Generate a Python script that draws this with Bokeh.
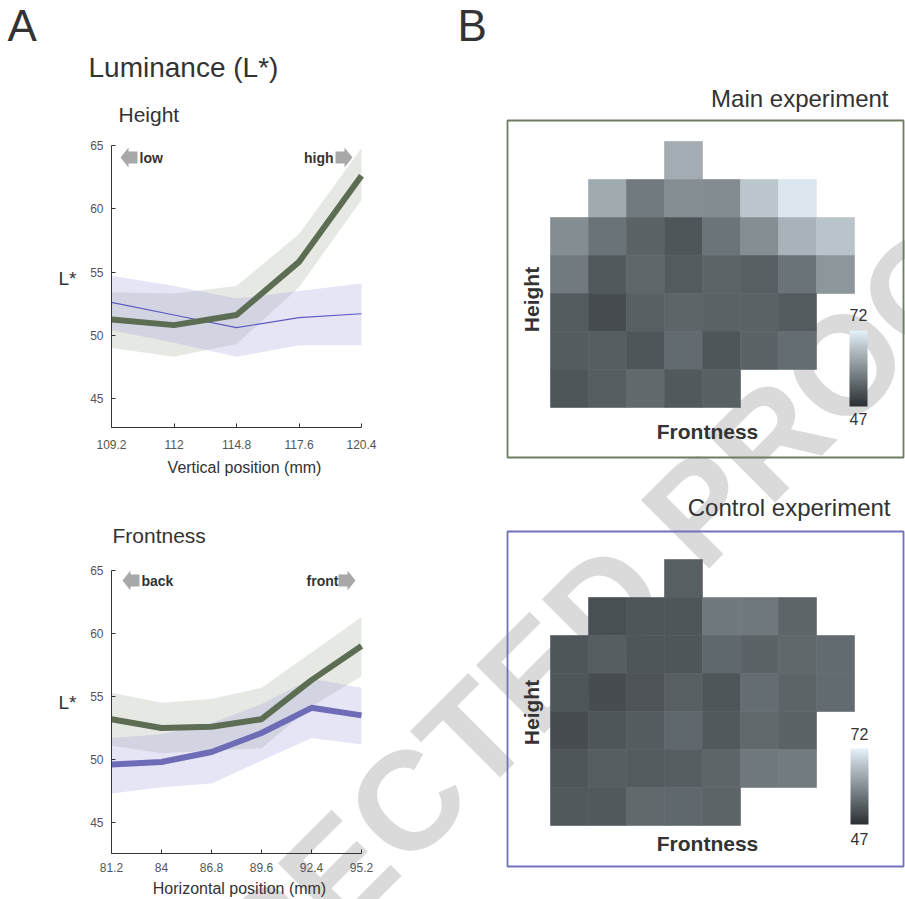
import numpy as np
from bokeh.plotting import figure
from bokeh.models import (ColumnDataSource, Label, FixedTicker, PolyAnnotation, BoxAnnotation,
                          LinearColorMapper, ColorBar, Range1d, LinearAxis)
from bokeh.transform import linear_cmap
from bokeh.embed import file_html
from bokeh.resources import INLINE

# ---------------- data ----------------
y_ticks = [45, 50, 55, 60, 65]

height_x = [109.2, 112, 114.8, 117.6, 120.4]
height_main = [51.25, 50.8, 51.6, 55.8, 62.6]
height_main_hi = [53.4, 53.3, 53.9, 58.0, 64.8]
height_main_lo = [49.0, 48.3, 49.3, 53.8, 60.7]
height_ctrl = [52.6, 51.6, 50.6, 51.4, 51.7]
height_ctrl_hi = [54.7, 53.9, 52.9, 53.5, 54.1]
height_ctrl_lo = [50.4, 49.4, 48.3, 49.2, 49.2]

front_x = [81.2, 84, 86.8, 89.6, 92.4, 95.2]
front_main = [53.2, 52.5, 52.6, 53.2, 56.3, 59.0]
front_main_hi = [55.3, 54.5, 54.8, 55.7, 58.5, 61.3]
front_main_lo = [51.1, 50.5, 50.7, 50.9, 54.2, 56.6]
front_ctrl = [49.6, 49.8, 50.6, 52.1, 54.1, 53.5]
front_ctrl_hi = [51.7, 52.0, 52.9, 54.4, 56.4, 55.7]
front_ctrl_lo = [47.3, 47.8, 48.1, 49.9, 51.7, 51.2]

# heat maps: rows listed from top (high) to bottom, columns back -> front
main_rows = [
    [None, None, None, 63.4, None, None, None, None],
    [None, 63.2, 56.8, 59.4, 59.2, 66.9, 70.6, None],
    [59.3, 55.9, 53.9, 52.2, 56.0, 59.4, 64.1, 66.5],
    [56.8, 52.5, 54.3, 52.8, 54.1, 53.3, 55.9, 60.4],
    [52.8, 50.9, 53.5, 54.2, 53.8, 53.8, 52.8, None],
    [52.9, 53.2, 52.2, 54.9, 52.1, 53.9, 55.2, None],
    [52.1, 53.2, 54.7, 52.5, 53.5, None, None, None],
]
ctrl_rows = [
    [None, None, None, 53.3, None, None, None, None],
    [None, 51.3, 52.1, 52.1, 56.7, 56.6, 54.2, None],
    [52.2, 53.2, 52.2, 52.2, 54.5, 53.9, 54.6, 54.9],
    [52.2, 50.9, 51.8, 53.3, 52.1, 55.2, 54.1, 54.9],
    [50.9, 52.1, 53.0, 54.5, 52.6, 54.7, 53.8, None],
    [52.2, 53.2, 52.8, 53.2, 54.2, 56.6, 56.9, None],
    [52.5, 52.6, 54.7, 54.5, 54.1, None, None, None],
]
cmap_low, cmap_high = 47, 72

# ---------------- style ----------------
FONT = "Liberation Sans"
TXT = "#333333"
GREEN = "#5d6d54"
PURPLE = "#6e6cb6"
THIN_PURPLE = "#5c5ac0"
GREEN_BAND = "#9aa790"
PURPLE_BAND = "#9c99dc"
WM_COLOR = "#dadada"
W, H = 905, 899

anchors_t = [0.0, 0.28, 0.5, 0.8, 1.0]
anchors_c = [(43, 47, 51), (92, 100, 104), (133, 143, 148), (189, 200, 206), (230, 242, 250)]
palette = []
for t in np.linspace(0, 1, 256):
    rgb = [int(round(np.interp(t, anchors_t, [c[k] for c in anchors_c]))) for k in range(3)]
    palette.append("#%02x%02x%02x" % tuple(rgb))

# one canvas; the base ranges are page pixels (y downwards)
p = figure(width=W, height=H, x_range=Range1d(0, W), y_range=Range1d(H, 0),
           output_backend="svg", toolbar_location=None,
           x_axis_location=None, y_axis_location=None, min_border=0)
p.grid.visible = False
p.outline_line_color = None


def xr_from_px(v0, p0, v1, p1):
    s = (p1 - p0) / (v1 - v0)
    return Range1d(v0 - p0 / s, v0 + (W - p0) / s)


def yr_from_px(v0, p0, v1, p1):
    s = (p1 - p0) / (v1 - v0)
    return Range1d(v0 + (H - p0) / s, v0 + (0 - p0) / s)


def label(text, x, y, size, align="left", baseline="middle", bold=False, angle=0, color=TXT):
    p.add_layout(Label(x=x, y=y, text=text, text_font=FONT, text_font_size=f"{size}px",
                       text_font_style="bold" if bold else "normal",
                       text_color=color, text_align=align, text_baseline=baseline,
                       angle=angle, angle_units="deg"))


def block_arrow(tip, y, direction):
    d = direction
    xs = [tip, tip - d * 8, tip - d * 8, tip - d * 17, tip - d * 17, tip - d * 8, tip - d * 8]
    ys = [y, y - 10, y - 6, y - 6, y + 6, y + 6, y + 10]
    p.add_layout(PolyAnnotation(xs=xs, ys=ys, fill_color="#a8a8a8", fill_alpha=1.0,
                                line_color=None))


# watermark (under everything)
p.add_layout(Label(x=445, y=763, text="UNCORRECTED PROOF", angle=45, angle_units="deg",
                   text_align="center", text_baseline="middle", text_font=FONT,
                   text_font_size="140px", text_font_style="bold", text_color=WM_COLOR,
                   level="underlay"))


def line_panel(name, xs, px_left, px_right, py65, py45, y_bottom, xlabel_standoff):
    p.extra_x_ranges[name + "x"] = xr_from_px(xs[0], px_left, xs[-1], px_right)
    p.extra_y_ranges[name + "y"] = yr_from_px(65, py65, 45, py45)
    xa = LinearAxis(x_range_name=name + "x", y_range_name=name + "y",
                    fixed_location=y_bottom, bounds=(xs[0], xs[-1]),
                    ticker=FixedTicker(ticks=xs))
    ya = LinearAxis(x_range_name=name + "x", y_range_name=name + "y",
                    fixed_location=xs[0], bounds=(y_bottom, 65),
                    ticker=FixedTicker(ticks=y_ticks))
    for ax in (xa, ya):
        ax.major_tick_in = 4
        ax.major_tick_out = 0
        ax.minor_tick_line_color = None
        ax.axis_line_color = "#333333"
        ax.major_tick_line_color = "#333333"
        ax.major_label_text_font = FONT
        ax.major_label_text_font_size = "12px"
        ax.major_label_text_color = "#555555"
    xa.major_label_standoff = xlabel_standoff
    ya.major_label_standoff = 8
    p.add_layout(xa, "below")
    p.add_layout(ya, "left")
    return dict(x_range_name=name + "x", y_range_name=name + "y")


# ---------------- A: height ----------------
rh = line_panel("h", height_x, 111, 361, 145, 398, 42.7, 12)
p.varea(x=height_x, y1=height_main_lo, y2=height_main_hi, fill_color=GREEN_BAND, fill_alpha=0.25, **rh)
p.varea(x=height_x, y1=height_ctrl_lo, y2=height_ctrl_hi, fill_color=PURPLE_BAND, fill_alpha=0.25, **rh)
p.line(height_x, height_ctrl, line_color=THIN_PURPLE, line_width=1.2, **rh)
p.line(height_x, height_main, line_color=GREEN, line_width=6, **rh)

label("A", 7, 25, 44)
label("Luminance (L*)", 88, 67, 28)
label("Height", 118, 114, 21)
label("L*", 67, 278, 19, align="center")
label("Vertical position (mm)", 244, 467, 16, align="center")
block_arrow(120, 157, -1)
label("low", 139, 157, 14, bold=True)
block_arrow(352, 157, 1)
label("high", 333, 157, 14, align="right", bold=True)

# ---------------- A: frontness ----------------
rf = line_panel("f", front_x, 111, 361, 570, 822, 42.54, 10)
p.varea(x=front_x, y1=front_main_lo, y2=front_main_hi, fill_color=GREEN_BAND, fill_alpha=0.25, **rf)
p.varea(x=front_x, y1=front_ctrl_lo, y2=front_ctrl_hi, fill_color=PURPLE_BAND, fill_alpha=0.25, **rf)
p.line(front_x, front_main, line_color=GREEN, line_width=6, **rf)
p.line(front_x, front_ctrl, line_color=PURPLE, line_width=6, **rf)

label("Frontness", 112, 535, 21)
label("L*", 67, 702, 19, align="center")
label("Horizontal position (mm)", 239, 888, 16, align="center")
block_arrow(122, 580, -1)
label("back", 141, 580, 14, bold=True)
block_arrow(355, 580, 1)
label("front", 338, 580, 14, align="right", bold=True)


# ---------------- B: heat maps ----------------
mapper = LinearColorMapper(palette=palette, low=cmap_low, high=cmap_high)


def heat_panel(name, rows, py_row_top, box_top, box_bottom, border, cb_xy):
    nrow = len(rows)
    p.extra_x_ranges[name + "x"] = xr_from_px(0, 569, 1, 607)
    row6_centre = py_row_top + 38 * (nrow - 1) + 19
    p.extra_y_ranges[name + "y"] = yr_from_px(0, row6_centre, 1, row6_centre - 38)
    rn = dict(x_range_name=name + "x", y_range_name=name + "y")
    cols, levs, vals = [], [], []
    for r, rv in enumerate(rows):
        for c, v in enumerate(rv):
            if v is not None:
                cols.append(c)
                levs.append(nrow - 1 - r)
                vals.append(v)
    src = ColumnDataSource(dict(col=cols, lev=levs, val=vals))
    cm = linear_cmap("val", palette, cmap_low, cmap_high)
    p.rect(x="col", y="lev", width=1, height=1, source=src, fill_color=cm,
           line_color=cm, line_width=0.6, **rn)
    p.add_layout(BoxAnnotation(left=507, right=903, top=box_top, bottom=box_bottom,
                               fill_alpha=0, line_color=border, line_alpha=1.0,
                               line_width=1.8))
    cb = ColorBar(color_mapper=mapper, location=cb_xy, width=18, height=76,
                  padding=0, margin=0, ticker=FixedTicker(ticks=[]),
                  major_tick_line_color=None, minor_tick_line_color=None,
                  bar_line_color=None, border_line_color=None,
                  background_fill_alpha=0, major_label_text_font_size="0px")
    p.add_layout(cb)


heat_panel("m", main_rows, 141, 120, 457, "#6e7c62", (849, H - 406))
label("B", 457, 25, 44)
label("Main experiment", 888, 98, 24, align="right")
label("Height", 531, 299, 21, align="center", bold=True, angle=90)
label("Frontness", 707, 431, 21, align="center", bold=True)
label("72", 858, 314, 16, align="center")
label("47", 858, 418, 16, align="center")

heat_panel("c", ctrl_rows, 559, 531, 866, "#7272bc", (850, H - 824))
label("Control experiment", 890, 507, 24, align="right")
label("Height", 531, 712, 21, align="center", bold=True, angle=90)
label("Frontness", 707, 843, 21, align="center", bold=True)
label("72", 859, 733, 16, align="center")
label("47", 859, 838, 16, align="center")

open("out.html", "w").write(file_html(p, INLINE))
